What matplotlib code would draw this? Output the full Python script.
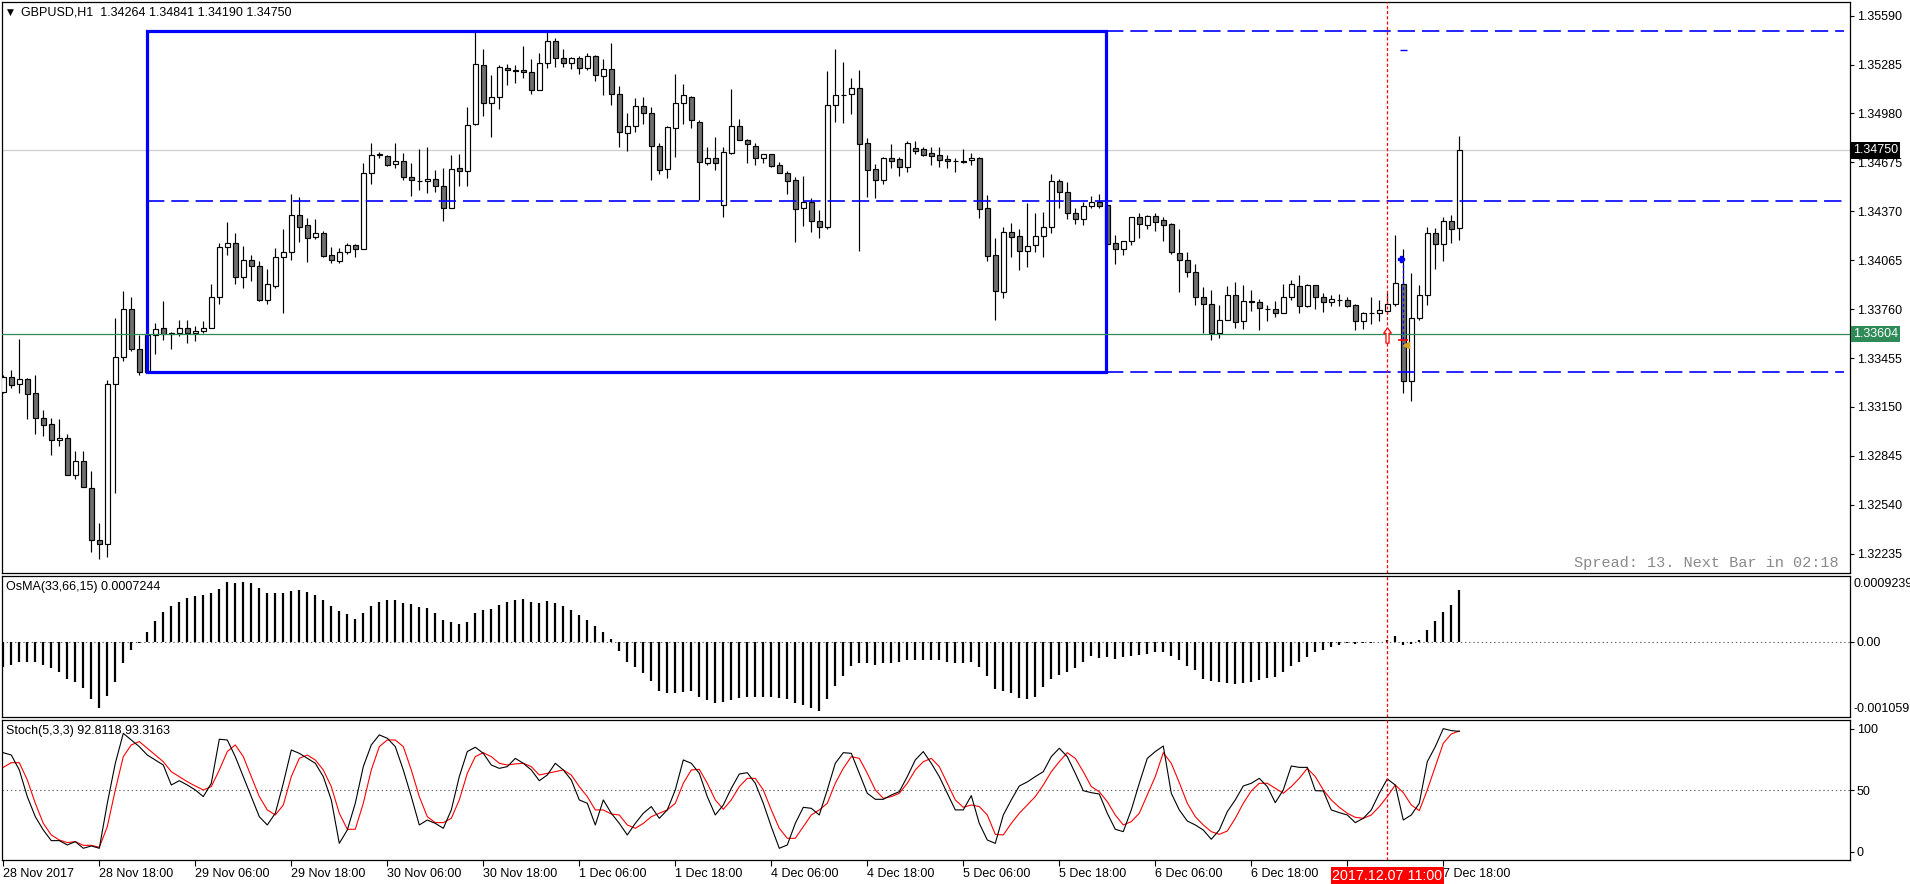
import matplotlib
matplotlib.use("Agg")
import matplotlib.pyplot as plt
import numpy as np
from matplotlib.path import Path
from matplotlib.patches import Rectangle

plt.rcParams['font.family'] = ['Liberation Sans', 'DejaVu Sans']
plt.rcParams['font.size'] = 9
plt.rcParams['lines.scale_dashes'] = False

# ---------------- data ----------------
symbol = "GBPUSD,H1"
opens = [1.33243,1.33334,1.33291,1.33321,1.33235,1.33079,1.33042,1.32942,1.32959,1.32723,
1.32810,1.32647,1.32318,1.32294,1.33291,1.33460,1.33759,1.33510,1.33369,1.33599,
1.33640,1.33608,1.33608,1.33640,1.33608,1.33621,1.33640,1.33833,1.34145,1.34171,
1.33963,1.34067,1.34026,1.33818,1.33905,1.34082,1.34115,1.34345,1.34282,1.34208,
1.34232,1.34095,1.34059,1.34115,1.34158,1.34132,1.34607,1.34724,1.34713,1.34663,
1.34681,1.34581,1.34561,1.34557,1.34574,1.34525,1.34388,1.34637,1.34624,1.34913,
1.35281,1.35043,1.35086,1.35266,1.35249,1.35249,1.35236,1.35129,1.35292,1.35435,
1.35325,1.35292,1.35325,1.35262,1.35337,1.35212,1.35255,1.35099,1.34856,1.34900,
1.35025,1.34986,1.34780,1.34635,1.34887,1.35043,1.35086,1.34930,1.34670,1.34700,
1.34408,1.34735,1.34900,1.34813,1.34780,1.34700,1.34726,1.34657,1.34609,1.34564,
1.34388,1.34431,1.34308,1.34273,1.35036,1.35097,1.35099,1.35136,1.34793,1.34631,
1.34568,1.34702,1.34696,1.34644,1.34765,1.34757,1.34733,1.34720,1.34696,1.34683,
1.34681,1.34687,1.34700,1.34388,1.34095,1.33866,1.34238,1.34215,1.34121,1.34158,
1.34219,1.34275,1.34557,1.34488,1.34358,1.34325,1.34401,1.34431,1.34408,1.34175,
1.34132,1.34182,1.34332,1.34282,1.34338,1.34314,1.34288,1.34108,1.34069,1.33989,
1.33833,1.33790,1.33608,1.33690,1.33846,1.33683,1.33811,1.33803,1.33761,1.33759,
1.33733,1.33833,1.33902,1.33781,1.33909,1.33833,1.33803,1.33816,1.33816,1.33783,
1.33683,1.33738,1.33738,1.33746,1.33790,1.33915,1.33313,1.33705,1.33846,1.34232,
1.34165,1.34308,1.34264]
highs = [1.33347,1.33378,1.33573,1.33330,1.33347,1.33131,1.33079,1.33074,1.32983,1.32875,
1.32875,1.32749,1.32426,1.33317,1.33707,1.33872,1.33835,1.33599,1.33612,1.33673,
1.33811,1.33616,1.33694,1.33694,1.33655,1.33686,1.33915,1.34171,1.34306,1.34236,
1.34154,1.34098,1.34063,1.34011,1.34141,1.34262,1.34479,1.34462,1.34327,1.34323,
1.34249,1.34145,1.34141,1.34171,1.34167,1.34674,1.34796,1.34739,1.34722,1.34796,
1.34733,1.34674,1.34759,1.34772,1.34627,1.34640,1.34722,1.34726,1.35021,1.35487,
1.35385,1.35220,1.35281,1.35286,1.35281,1.35400,1.35320,1.35355,1.35487,1.35450,
1.35383,1.35333,1.35337,1.35355,1.35346,1.35320,1.35420,1.35151,1.34982,1.35077,
1.35082,1.35021,1.34793,1.34902,1.35227,1.35164,1.35090,1.34939,1.34772,1.34832,
1.34774,1.35132,1.34945,1.34822,1.34796,1.34730,1.34730,1.34678,1.34620,1.34587,
1.34590,1.34453,1.34375,1.35244,1.35383,1.35301,1.35201,1.35251,1.34828,1.34665,
1.34711,1.34789,1.34711,1.34809,1.34809,1.34772,1.34772,1.34772,1.34720,1.34702,
1.34759,1.34733,1.34709,1.34472,1.34204,1.34269,1.34297,1.34260,1.34423,1.34358,
1.34366,1.34603,1.34572,1.34553,1.34390,1.34427,1.34466,1.34479,1.34408,1.34223,
1.34182,1.34336,1.34358,1.34347,1.34358,1.34332,1.34297,1.34258,1.34119,1.34041,
1.33898,1.33879,1.33785,1.33902,1.33928,1.33911,1.33879,1.33820,1.33785,1.33811,
1.33915,1.33941,1.33972,1.33915,1.33913,1.33859,1.33850,1.33855,1.33833,1.33790,
1.33742,1.33835,1.33818,1.33859,1.34221,1.34132,1.33985,1.33911,1.34269,1.34267,
1.34334,1.34349,1.34841]
lows = [1.33239,1.33269,1.33239,1.33076,1.32983,1.32966,1.32853,1.32907,1.32723,1.32701,
1.32649,1.32246,1.32203,1.32216,1.32610,1.33439,1.33501,1.33352,1.33369,1.33482,
1.33569,1.33512,1.33590,1.33551,1.33558,1.33608,1.33640,1.33794,1.34100,1.33915,
1.33894,1.33933,1.33811,1.33794,1.33894,1.33738,1.34067,1.34180,1.34056,1.34197,
1.34085,1.34050,1.34050,1.34106,1.34085,1.34132,1.34540,1.34700,1.34652,1.34642,
1.34566,1.34468,1.34505,1.34486,1.34492,1.34312,1.34388,1.34529,1.34529,1.34906,
1.34967,1.34835,1.35010,1.35160,1.35173,1.35203,1.35099,1.35129,1.35266,1.35272,
1.35272,1.35259,1.35229,1.35253,1.35181,1.35097,1.35030,1.34774,1.34748,1.34867,
1.34917,1.34566,1.34605,1.34577,1.34711,1.34913,1.34891,1.34440,1.34661,1.34627,
1.34334,1.34728,1.34813,1.34674,1.34661,1.34670,1.34648,1.34607,1.34479,1.34180,
1.34280,1.34243,1.34206,1.34262,1.34930,1.34923,1.34978,1.34123,1.34462,1.34455,
1.34542,1.34642,1.34592,1.34618,1.34728,1.34718,1.34661,1.34648,1.34642,1.34618,
1.34674,1.34657,1.34330,1.34063,1.33694,1.33831,1.34085,1.34006,1.34024,1.34119,
1.34085,1.34232,1.34390,1.34319,1.34293,1.34286,1.34392,1.34392,1.34169,1.34041,
1.34098,1.34160,1.34204,1.34262,1.34249,1.34184,1.34104,1.33868,1.33963,1.33785,
1.33608,1.33569,1.33582,1.33690,1.33644,1.33638,1.33746,1.33631,1.33688,1.33712,
1.33733,1.33816,1.33738,1.33772,1.33759,1.33742,1.33781,1.33781,1.33772,1.33631,
1.33638,1.33668,1.33686,1.33731,1.33781,1.33239,1.33189,1.33694,1.33785,1.34011,
1.34063,1.34171,1.34190]
closes = [1.33334,1.33287,1.33321,1.33228,1.33079,1.33035,1.32942,1.32953,1.32723,1.32810,
1.32649,1.32318,1.32292,1.33291,1.33460,1.33759,1.33510,1.33365,1.33599,1.33634,
1.33605,1.33605,1.33640,1.33608,1.33621,1.33640,1.33833,1.34145,1.34171,1.33963,
1.34067,1.34026,1.33818,1.33915,1.34082,1.34115,1.34345,1.34273,1.34202,1.34232,
1.34093,1.34069,1.34115,1.34158,1.34132,1.34609,1.34722,1.34726,1.34661,1.34681,
1.34581,1.34564,1.34557,1.34574,1.34525,1.34392,1.34635,1.34624,1.34906,1.35286,
1.35043,1.35086,1.35268,1.35249,1.35246,1.35236,1.35125,1.35292,1.35435,1.35325,
1.35292,1.35325,1.35262,1.35337,1.35218,1.35255,1.35099,1.34863,1.34900,1.35025,
1.34986,1.34780,1.34627,1.34893,1.35043,1.35093,1.34937,1.34676,1.34700,1.34670,
1.34737,1.34900,1.34813,1.34787,1.34700,1.34726,1.34655,1.34607,1.34561,1.34386,
1.34427,1.34308,1.34273,1.35032,1.35093,1.35095,1.35142,1.34787,1.34629,1.34568,
1.34702,1.34685,1.34644,1.34793,1.34743,1.34724,1.34718,1.34692,1.34681,1.34681,
1.34678,1.34700,1.34386,1.34093,1.33870,1.34238,1.34212,1.34121,1.34152,1.34219,
1.34269,1.34557,1.34488,1.34358,1.34325,1.34401,1.34431,1.34401,1.34169,1.34132,
1.34182,1.34332,1.34288,1.34338,1.34306,1.34282,1.34115,1.34069,1.33989,1.33833,
1.33790,1.33608,1.33690,1.33846,1.33681,1.33811,1.33803,1.33764,1.33759,1.33733,
1.33833,1.33915,1.33781,1.33911,1.33833,1.33803,1.33820,1.33814,1.33777,1.33683,
1.33735,1.33733,1.33753,1.33790,1.33920,1.33313,1.33703,1.33846,1.34232,1.34165,
1.34308,1.34258,1.34750]

osma_values = [-0.000349,-0.000321,-0.000279,-0.000279,-0.000288,-0.000321,-0.000368,-0.000420,-0.000519,-0.000567,
-0.000647,-0.000803,-0.000930,-0.000765,-0.000567,-0.000293,-0.000123,-0.000019,0.000142,0.000297,
0.000411,0.000500,0.000562,0.000609,0.000637,0.000652,0.000680,0.000746,0.000836,0.000831,
0.000836,0.000821,0.000751,0.000689,0.000680,0.000680,0.000708,0.000722,0.000694,0.000656,
0.000585,0.000496,0.000425,0.000387,0.000321,0.000406,0.000496,0.000562,0.000590,0.000590,
0.000548,0.000529,0.000491,0.000467,0.000406,0.000312,0.000274,0.000245,0.000279,0.000406,
0.000439,0.000458,0.000515,0.000552,0.000581,0.000595,0.000562,0.000548,0.000571,0.000543,
0.000500,0.000448,0.000378,0.000312,0.000227,0.000142,0.000038,-0.000137,-0.000279,-0.000349,
-0.000434,-0.000552,-0.000689,-0.000727,-0.000727,-0.000708,-0.000694,-0.000774,-0.000821,-0.000859,
-0.000855,-0.000821,-0.000788,-0.000774,-0.000774,-0.000774,-0.000774,-0.000788,-0.000803,-0.000859,
-0.000892,-0.000930,-0.000973,-0.000803,-0.000623,-0.000482,-0.000335,-0.000302,-0.000302,-0.000321,
-0.000302,-0.000293,-0.000279,-0.000264,-0.000255,-0.000255,-0.000255,-0.000264,-0.000283,-0.000293,
-0.000293,-0.000279,-0.000349,-0.000477,-0.000661,-0.000689,-0.000727,-0.000788,-0.000803,-0.000774,
-0.000642,-0.000529,-0.000472,-0.000430,-0.000364,-0.000279,-0.000208,-0.000231,-0.000222,-0.000245,
-0.000217,-0.000198,-0.000184,-0.000170,-0.000151,-0.000146,-0.000198,-0.000264,-0.000335,-0.000397,
-0.000519,-0.000552,-0.000567,-0.000585,-0.000595,-0.000585,-0.000567,-0.000538,-0.000515,-0.000491,
-0.000430,-0.000340,-0.000288,-0.000217,-0.000151,-0.000113,-0.000076,-0.000047,-0.000019,-0.000028,
-0.000019,-0.000014,-0.000005,0.000024,0.000085,-0.000047,-0.000028,0.000028,0.000170,0.000288,
0.000415,0.000515,0.0007244]

stoch_main = [80.5,78.6,66.5,44.9,28.6,17.8,9.2,9.2,5.7,8.4,
3.0,4.9,3.0,39.5,71.9,96.2,90.8,85.4,78.6,74.6,
70.5,54.3,57.8,54.3,50.3,44.9,55.7,91.4,90.8,77.3,
61.1,44.9,28.6,21.9,31.4,55.7,82.7,80.0,75.9,71.9,
61.1,42.2,7.0,17.8,39.5,69.2,86.8,94.9,92.2,85.4,
66.5,44.9,21.9,25.9,23.2,19.2,34.1,61.1,81.4,84.9,
80.0,70.5,67.8,69.2,75.9,71.9,66.5,57.8,62.4,71.9,
66.5,58.4,42.2,39.5,21.9,42.2,31.4,23.2,13.8,23.2,
31.4,36.8,27.3,34.1,50.3,74.6,71.9,63.8,44.9,30.0,
38.1,51.6,63.2,64.3,55.7,39.5,20.5,3.0,5.7,23.2,
36.2,35.4,30.0,50.3,71.9,80.5,80.0,63.8,47.6,42.7,
42.7,46.2,48.9,61.1,74.6,81.4,71.9,61.1,47.6,34.1,
34.1,45.7,23.2,9.7,7.0,30.0,42.2,53.5,56.8,61.1,
65.1,77.3,84.1,77.3,63.8,49.7,48.1,47.0,31.4,18.4,
16.5,34.1,55.7,75.9,81.4,85.9,47.6,34.1,25.1,21.9,
17.8,10.3,17.8,32.7,42.2,53.5,55.7,59.7,53.0,40.0,
50.3,69.7,68.6,68.6,49.7,49.5,34.1,31.9,30.0,23.8,
27.3,34.1,47.6,59.2,54.3,25.9,30.0,39.5,73.2,85.4,
100.0,98.4,97.8]
stoch_signal = [68.6,72.4,72.4,58.4,39.5,23.2,13.8,9.7,7.6,8.4,
5.4,5.4,3.8,20.5,50.3,77.3,86.8,89.5,84.1,78.6,
73.2,65.1,61.1,57.0,53.5,50.3,53.0,66.5,81.4,86.8,
77.3,61.1,44.9,34.1,30.0,38.1,61.1,75.9,78.6,74.6,
66.5,53.0,31.4,18.4,18.4,39.5,66.5,85.4,90.8,90.8,
85.4,66.5,44.9,28.6,23.8,23.8,27.3,42.2,63.8,77.3,
80.5,77.3,71.9,70.5,71.4,71.9,69.2,62.4,63.8,65.1,
66.5,62.4,53.0,44.9,34.1,34.1,30.8,30.0,21.9,19.2,
23.2,28.6,31.4,34.1,39.5,55.7,66.5,67.0,55.7,42.2,
34.6,42.2,53.0,59.7,59.7,50.3,34.1,19.2,11.1,11.1,
20.5,30.0,34.1,39.5,55.7,67.8,77.3,75.9,63.8,50.3,
43.5,44.9,47.6,55.7,66.5,73.2,75.9,69.2,55.7,42.2,
36.2,38.1,36.8,30.0,14.3,13.8,23.2,31.4,38.1,44.9,
54.3,65.1,73.2,80.5,75.9,65.1,53.0,48.9,40.8,30.0,
21.9,24.6,31.4,46.2,61.1,80.5,71.9,56.2,39.5,28.6,
21.9,16.5,14.3,17.0,27.3,39.5,49.5,55.7,55.7,51.6,
47.6,53.0,59.7,67.8,61.1,50.3,42.2,36.2,31.4,28.1,
27.3,30.0,36.8,44.9,54.3,48.1,38.1,33.5,50.3,69.2,
88.1,95.7,98.1]

price_ticks = [1.35590,1.35285,1.34980,1.34675,1.34370,1.34065,1.33760,1.33455,1.33150,1.32845,1.32540,1.32235]
time_tick_bars = [0,12,24,36,48,60,72,84,96,108,120,132,144,156,168,180]
# the 7 Dec 06:00 label is hidden under the red cursor label in the reference
time_tick_labels = ["28 Nov 2017","28 Nov 18:00","29 Nov 06:00","29 Nov 18:00","30 Nov 06:00",
                    "30 Nov 18:00","1 Dec 06:00","1 Dec 18:00","4 Dec 06:00","4 Dec 18:00",
                    "5 Dec 06:00","5 Dec 18:00","6 Dec 06:00","6 Dec 18:00","","7 Dec 18:00"]

current_price = 1.34750
green_level = 1.33604
box_bar_start, box_bar_end = 18, 138
box_high, box_low = 1.35496, 1.33368
box_mid = 1.34432
vline_bar = 173
vline_label = "2017.12.07 11:00"
signal_arrow_bar, signal_arrow_price = 173, 1.33598
order_bar, order_open_price, order_close_price = 175, 1.34072, 1.33536
order_sl_price = 1.33567
blue_dash_price = 1.35376
osma_range = (-0.001059, 0.0009239)
stoch_range = (-6.5, 107.0)
osma_label = "OsMA(33,66,15) 0.0007244"
stoch_label = "Stoch(5,3,3) 92.8118 93.3163"
spread_text = "Spread: 13. Next Bar in 02:18"

# ---------------- layout ----------------
W, H = 1910, 884
fig = plt.figure(figsize=(W / 100, H / 100), dpi=100)
fig.patch.set_facecolor('white')

def fx(px):
    return px / W

def fy(py):
    return 1 - py / H

L, R = 2, 1850
ax = fig.add_axes([fx(L), fy(573), fx(R) - fx(L), fy(2) - fy(573)])
ax_o = fig.add_axes([fx(L), fy(717), fx(R) - fx(L), fy(576) - fy(717)])
ax_s = fig.add_axes([fx(L), fy(860), fx(R) - fx(L), fy(720) - fy(860)])

n = len(closes)
x = np.arange(n)
xlim = (-0.1625, 230.84)
for a in (ax, ax_o, ax_s):
    a.set_xlim(*xlim)
    for s in a.spines.values():
        s.set_linewidth(0.9)
        s.set_color('black')
    a.set_facecolor('white')

# ---------------- main price panel ----------------
o = np.array(opens); h = np.array(highs); l = np.array(lows); c = np.array(closes)
ax.set_ylim(1.321141, 1.356754)

ax.axhline(current_price, color='#cfcfcf', lw=0.9, zorder=1)

ax.vlines(x, l, h, color='black', lw=0.85, zorder=2)
bottoms = np.minimum(o, c)
heights = np.abs(c - o)
fills = ['white' if cc >= oo else '#6e6e6e' for oo, cc in zip(o, c)]
ax.bar(x, heights, bottom=bottoms, width=0.56, color=fills, edgecolor='black',
       linewidth=0.85, zorder=3)

ax.axhline(green_level, color='#2e8b57', lw=0.9, zorder=5)

# blue box and its dashed extensions
ax.add_patch(Rectangle((box_bar_start - 0.04, box_low), box_bar_end - box_bar_start - 0.08,
                       box_high - box_low, fill=False, ec='#0000ff', lw=2.3, zorder=4))
x_end = xlim[1] - 0.7
dash = (0, (12.5, 5))
ax.hlines([box_high, box_low], box_bar_end - 0.1, x_end, colors='#0000ff', lw=1.2,
          linestyles=[dash], zorder=4)
ax.hlines([box_mid], box_bar_start - 0.04, x_end, colors='#0000ff', lw=1.2,
          linestyles=[dash], zorder=4)

ax.hlines([blue_dash_price], order_bar - 0.45, order_bar + 0.45, colors='#0000ff', lw=1.0, zorder=6)

# order markers
ax.plot([order_bar, order_bar], [order_open_price, order_close_price], color='#0000ff',
        lw=0.9, ls=(0, (2, 2)), zorder=6)
ax.plot([order_bar - 0.3], [order_open_price], marker='P', color='#0000ff', ms=5, zorder=7)
ax.hlines([order_sl_price], order_bar - 0.6, order_bar + 0.6, colors='red', lw=1.2, zorder=7)
ax.plot([order_bar + 0.35], [order_close_price], marker='<', color='#daa520', ms=5,
        mec='#daa520', zorder=7)

# signal arrow (outlined up arrow)
arrow = Path([(0, 1), (0.5, 0.3), (0.2, 0.3), (0.2, -1), (-0.2, -1), (-0.2, 0.3), (-0.5, 0.3), (0, 1)],
             [Path.MOVETO] + [Path.LINETO] * 6 + [Path.CLOSEPOLY])
ax.plot([signal_arrow_bar], [signal_arrow_price], marker=arrow, ms=11, mfc='white',
        mec='red', mew=0.9, zorder=7)

# price axis
ax.yaxis.tick_right()
ax.set_yticks(price_ticks)
ax.set_yticklabels([f"{p:.5f}" for p in price_ticks])
ax.tick_params(axis='y', direction='out', length=3, width=0.8, labelsize=9, pad=2)
ax.set_xticks([])

for price, bg in ((current_price, 'black'), (green_level, '#2e8b57')):
    ax.annotate(f"{price:.5f}", xy=(1, price), xycoords=('axes fraction', 'data'),
                xytext=(2, 0), textcoords='offset points', ha='left', va='center',
                fontsize=9, color='white',
                bbox=dict(boxstyle='square,pad=0.18', fc=bg, ec='none'), zorder=10,
                annotation_clip=False)

# ---------------- OsMA panel ----------------
ax_o.set_ylim(*osma_range)
ax_o.vlines(x, 0, osma_values, color='black', lw=1.6, zorder=3)
ax_o.axhline(0, color='#666666', lw=0.8, ls=(0, (1, 2)), zorder=2)
ax_o.yaxis.tick_right()
ax_o.set_yticks([0])
ax_o.set_yticklabels(["0.00"])
ax_o.tick_params(axis='y', direction='out', length=3, width=0.8, labelsize=9, pad=2)
ax_o.set_xticks([])
ax_o.annotate(f"{osma_range[1]:.7f}", xy=(1.0, 0.94), xycoords='axes fraction',
              xytext=(2.5, 0), textcoords='offset points', ha='left', va='center',
              fontsize=9, annotation_clip=False)
ax_o.annotate(f"{osma_range[0]:.6f}", xy=(1.0, 0.06), xycoords='axes fraction',
              xytext=(2.5, 0), textcoords='offset points', ha='left', va='center',
              fontsize=9, annotation_clip=False)

# ---------------- Stochastic panel ----------------
ax_s.set_ylim(*stoch_range)
ax_s.axhline(50, color='#666666', lw=0.8, ls=(0, (1, 2)), zorder=1)
ax_s.plot(x, stoch_main, color='black', lw=0.8, zorder=3)
ax_s.plot(x, stoch_signal, color='red', lw=0.8, zorder=2)
ax_s.yaxis.tick_right()
ax_s.set_yticks([0, 50, 100])
ax_s.set_yticklabels(["0", "50", "100"])
ax_s.tick_params(axis='y', direction='out', length=3, width=0.8, labelsize=9, pad=2)
ax_s.set_xticks(time_tick_bars)
ax_s.set_xticklabels(time_tick_labels, ha='left')
ax_s.tick_params(axis='x', direction='out', length=4, width=0.8, labelsize=9, pad=2)

# red vertical time marker
for a in (ax, ax_o, ax_s):
    a.axvline(vline_bar, color='red', lw=0.9, ls=(0, (2.2, 1.6)), zorder=6)
ax_s.annotate(vline_label, xy=(vline_bar, 0), xycoords=('data', 'axes fraction'),
              xytext=(0, -11.5), textcoords='offset points', ha='center', va='center',
              fontsize=10.3, color='white', annotation_clip=False,
              bbox=dict(boxstyle='square,pad=0.12', fc='#ff0000', ec='none'), zorder=20)

# ---------------- texts ----------------
fig.text(fx(7), fy(12.7), "\u25BC", fontsize=6.5, ha='left', va='center',
         family=['DejaVu Sans'])
fig.text(fx(21), fy(12.7),
         f"{symbol}  {opens[-1]:.5f} {highs[-1]:.5f} {lows[-1]:.5f} {closes[-1]:.5f}",
         fontsize=9, ha='left', va='center')
fig.text(fx(6), fy(587), osma_label, fontsize=9, ha='left', va='center')
fig.text(fx(6), fy(731), stoch_label, fontsize=9, ha='left', va='center')
fig.text(fx(1839), fy(563), spread_text, fontsize=11, ha='right', va='center',
         color='#8a8a8a', family=['Liberation Mono', 'DejaVu Sans Mono'])

fig.savefig("out.png", dpi=100, facecolor='white')
